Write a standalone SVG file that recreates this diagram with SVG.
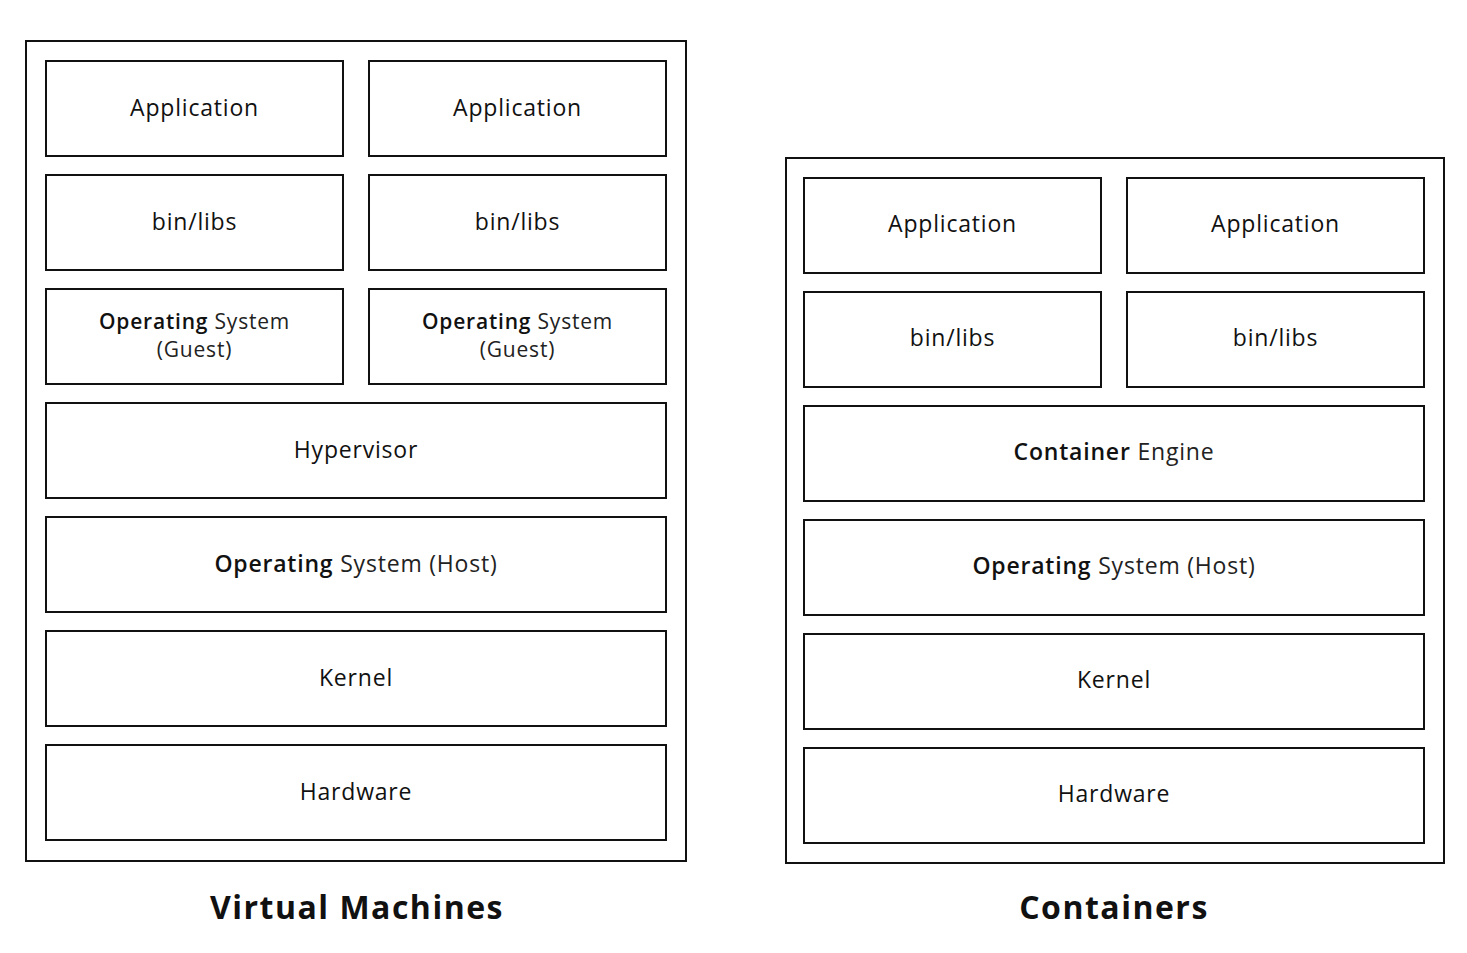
<svg xmlns="http://www.w3.org/2000/svg" width="1467" height="953" viewBox="0 0 1467 953">
<style>
.frame{fill:none;stroke:#111;stroke-width:2}
.box{fill:#fff;stroke:#111;stroke-width:2}
.t{font-family:"Open Sans","Liberation Sans",sans-serif;font-size:23px;fill:#111;text-anchor:middle;letter-spacing:0.8px;font-weight:500}
.b{font-weight:600}
.l{font-weight:400;fill:#222}
.g{font-size:21px}
.title{font-family:"Open Sans","Liberation Sans",sans-serif;font-size:32px;font-weight:700;fill:#111;text-anchor:middle;letter-spacing:1.5px}
</style>
<rect width="1467" height="953" fill="#fff"/>
<g id="vm">
<rect class="frame" x="26" y="41" width="660" height="820"/>
<g id="vm-app1"><rect class="box" x="46" y="61" width="297" height="95"/><text class="t" x="194.5" y="116">Application</text></g>
<g id="vm-app2"><rect class="box" x="369" y="61" width="297" height="95"/><text class="t" x="517.5" y="116">Application</text></g>
<g id="vm-bin1"><rect class="box" x="46" y="175" width="297" height="95"/><text class="t" x="194.5" y="230">bin/libs</text></g>
<g id="vm-bin2"><rect class="box" x="369" y="175" width="297" height="95"/><text class="t" x="517.5" y="230">bin/libs</text></g>
<g id="vm-os1"><rect class="box" x="46" y="289" width="297" height="95"/><text class="t g" x="194.5" y="329"><tspan class="b">Operating</tspan> <tspan class="l">System</tspan></text><text class="t g l" x="194.5" y="357">(Guest)</text></g>
<g id="vm-os2"><rect class="box" x="369" y="289" width="297" height="95"/><text class="t g" x="517.5" y="329"><tspan class="b">Operating</tspan> <tspan class="l">System</tspan></text><text class="t g l" x="517.5" y="357">(Guest)</text></g>
<g id="vm-hyp"><rect class="box" x="46" y="403" width="620" height="95"/><text class="t" x="356" y="458">Hypervisor</text></g>
<g id="vm-host"><rect class="box" x="46" y="517" width="620" height="95"/><text class="t" x="356" y="572"><tspan class="b">Operating</tspan> <tspan class="l">System (Host)</tspan></text></g>
<g id="vm-kernel"><rect class="box" x="46" y="631" width="620" height="95"/><text class="t" x="356" y="686">Kernel</text></g>
<g id="vm-hw"><rect class="box" x="46" y="745" width="620" height="95"/><text class="t" x="356" y="800">Hardware</text></g>
<text class="title" x="357" y="919">Virtual Machines</text>
</g>
<g id="ct">
<rect class="frame" x="786" y="158" width="658" height="705"/>
<g id="ct-app1"><rect class="box" x="804" y="178" width="297" height="95"/><text class="t" x="952.5" y="232">Application</text></g>
<g id="ct-app2"><rect class="box" x="1127" y="178" width="297" height="95"/><text class="t" x="1275.5" y="232">Application</text></g>
<g id="ct-bin1"><rect class="box" x="804" y="292" width="297" height="95"/><text class="t" x="952.5" y="346">bin/libs</text></g>
<g id="ct-bin2"><rect class="box" x="1127" y="292" width="297" height="95"/><text class="t" x="1275.5" y="346">bin/libs</text></g>
<g id="ct-engine"><rect class="box" x="804" y="406" width="620" height="95"/><text class="t" x="1114" y="460"><tspan class="b">Container</tspan> <tspan class="l">Engine</tspan></text></g>
<g id="ct-host"><rect class="box" x="804" y="520" width="620" height="95"/><text class="t" x="1114" y="574"><tspan class="b">Operating</tspan> <tspan class="l">System (Host)</tspan></text></g>
<g id="ct-kernel"><rect class="box" x="804" y="634" width="620" height="95"/><text class="t" x="1114" y="688">Kernel</text></g>
<g id="ct-hw"><rect class="box" x="804" y="748" width="620" height="95"/><text class="t" x="1114" y="802">Hardware</text></g>
<text class="title" x="1114" y="919">Containers</text>
</g>
<g id="connectors"/>
</svg>
